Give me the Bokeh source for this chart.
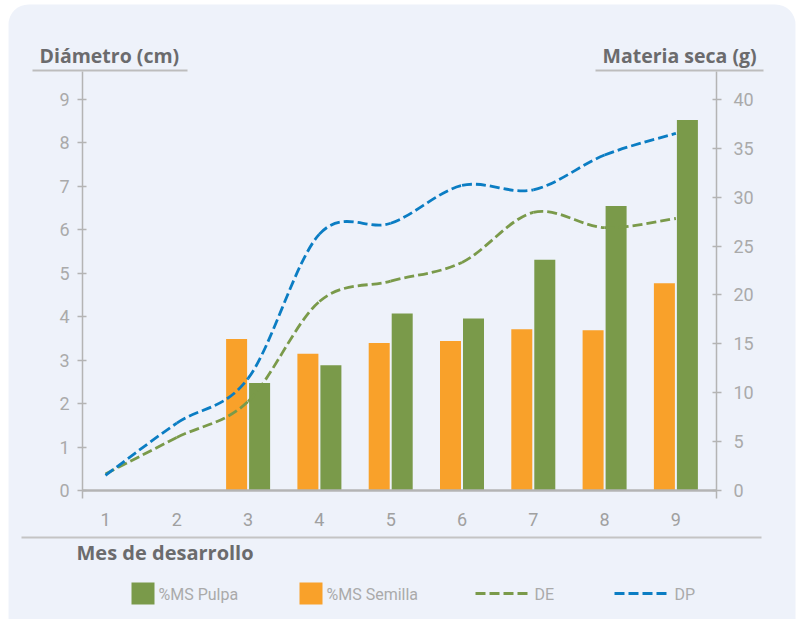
from bokeh.plotting import figure
from bokeh.models import (Range1d, LinearAxis, FixedTicker, Label,
                          BoxAnnotation, Arrow, ColumnDataSource)
from bokeh.transform import dodge
from bokeh.embed import file_html
from bokeh.resources import INLINE

# ---------------- data ----------------
months = [1, 2, 3, 4, 5, 6, 7, 8, 9]
bar_months = [3, 4, 5, 6, 7, 8, 9]
ms_pulpa = [11.0, 12.8, 18.1, 17.6, 23.6, 29.1, 37.9]      # g, right axis
ms_semilla = [15.5, 14.0, 15.1, 15.3, 16.5, 16.4, 21.2]    # g, right axis
de = [0.38, 1.22, 2.05, 4.35, 4.82, 5.25, 6.40, 6.05, 6.26]  # cm, left axis
dp = [0.35, 1.55, 2.58, 5.90, 6.15, 7.02, 6.92, 7.72, 8.22]  # cm, left axis
left_ticks = [0, 1, 2, 3, 4, 5, 6, 7, 8, 9]
right_ticks = [0, 5, 10, 15, 20, 25, 30, 35, 40]
series_names = ["%MS Pulpa", "%MS Semilla", "DE", "DP"]

# ---------------- style ----------------
BG = "#EEF2FA"
GREEN = "#7A9A4A"
ORANGE = "#F9A12A"
BLUE = "#0B7DC3"
AXIS = "#B4B4B4"
TICKTXT = "#AAAAAA"
TITLE = "#6B6B6D"
NARROW = "Roboto"
BOLD = "Open Sans"

W, H = 797, 619
X1PX, XSTEP = 105.0, 71.3      # pixel of month 1, px per month
Y0PX, YSTEP = 490.0, 43.45     # pixel of 0 cm, px per cm
RATIO = 40.0 / 9.0
FL, FR, FT, FB = 82, 716, 71, 498   # extent of the axes


def dx(px):
    return 1 + (px - X1PX) / XSTEP


def dy(py):
    return (Y0PX - py) / YSTEP


p = figure(width=W, height=H, output_backend="svg", toolbar_location=None,
           title=None, x_axis_type=None, y_axis_type=None,
           x_range=Range1d(dx(0), dx(W)), y_range=Range1d(dy(H), dy(0)),
           min_border=0, background_fill_color="white",
           border_fill_color="white")
p.outline_line_color = None
p.grid.visible = False
p.extra_y_ranges = {"ms": Range1d(dy(H) * RATIO, dy(0) * RATIO)}

# card
p.add_layout(BoxAnnotation(left=dx(8), right=dx(795), top=dy(4), bottom=dy(660),
                           fill_color=BG, fill_alpha=1, line_color=None,
                           border_radius=20, level="underlay"))


def style_axis(ax, standoff):
    ax.axis_line_color = AXIS
    ax.axis_line_width = 1.5
    ax.major_tick_line_color = AXIS
    ax.major_tick_line_width = 1.5
    ax.major_tick_in = 4
    ax.major_tick_out = 5
    ax.minor_tick_line_color = None
    ax.major_label_text_color = TICKTXT
    ax.major_label_text_font = NARROW
    ax.major_label_text_font_size = "18px"
    ax.major_label_standoff = standoff


# left axis
la = LinearAxis(ticker=FixedTicker(ticks=left_ticks), fixed_location=dx(FL),
                bounds=(dy(FB), dy(FT)))
style_axis(la, 8)
p.add_layout(la, "left")

# right axis
ra = LinearAxis(y_range_name="ms", ticker=FixedTicker(ticks=right_ticks),
                fixed_location=dx(FR), bounds=(dy(FB) * RATIO, dy(FT) * RATIO))
style_axis(ra, 12)
p.add_layout(ra, "right")

# x axis (its line is the zero baseline)
xa = LinearAxis(ticker=FixedTicker(ticks=months), fixed_location=0,
                bounds=(dx(FL), dx(FR)))
xa.axis_line_color = AXIS
xa.axis_line_width = 2.5
xa.major_tick_line_color = None
xa.minor_tick_line_color = None
xa.major_label_text_color = "#A0A0A0"
xa.major_label_text_font = NARROW
xa.major_label_text_font_size = "18px"
xa.major_label_standoff = 16
p.add_layout(xa, "below")

# bars
off = 11.5 / XSTEP
bw = 21 / XSTEP
src = ColumnDataSource(dict(m=bar_months, pulpa=ms_pulpa, semilla=ms_semilla))
p.vbar(x=dodge("m", -off), top="semilla", width=bw, bottom=0, source=src,
       fill_color=ORANGE, line_color=None, y_range_name="ms")
p.vbar(x=dodge("m", off), top="pulpa", width=bw, bottom=0, source=src,
       fill_color=GREEN, line_color=None, y_range_name="ms")


# smoothed dashed lines (bezier segments through the data points)
def smooth(xs, ys):
    n = len(xs)
    out = dict(x0=[], y0=[], x1=[], y1=[], cx0=[], cy0=[], cx1=[], cy1=[])
    for i in range(n - 1):
        a = i - 1 if i > 0 else i
        b = i + 2 if i + 2 < n else i + 1
        out["x0"].append(xs[i]); out["y0"].append(ys[i])
        out["x1"].append(xs[i + 1]); out["y1"].append(ys[i + 1])
        out["cx0"].append(xs[i] + (xs[i + 1] - xs[a]) / 6)
        out["cy0"].append(ys[i] + (ys[i + 1] - ys[a]) / 6)
        out["cx1"].append(xs[i + 1] - (xs[b] - xs[i]) / 6)
        out["cy1"].append(ys[i + 1] - (ys[b] - ys[i]) / 6)
    return ColumnDataSource(out)


for ys, col in ((de, GREEN), (dp, BLUE)):
    p.bezier(x0="x0", y0="y0", x1="x1", y1="y1", cx0="cx0", cy0="cy0",
             cx1="cx1", cy1="cy1", source=smooth(months, ys),
             line_color=col, line_width=2.8, line_dash="10 4")


# ---------------- annotations (titles, separators, legend) ----------------
def hline(x0, x1, y, color, width, dash="solid"):
    p.add_layout(Arrow(x_start=dx(x0), y_start=dy(y), x_end=dx(x1), y_end=dy(y),
                       end=None, line_color=color, line_width=width, line_dash=dash))


def label(txt, x, y, font, size, color, style="normal", baseline="middle"):
    p.add_layout(Label(x=dx(x), y=dy(y), text=txt, text_font=font,
                       text_font_size=size, text_color=color,
                       text_font_style=style, text_baseline=baseline))


label("Diámetro (cm)", 39, 55, BOLD, "19.5px", TITLE, "bold")
label("Materia seca (g)", 602, 55, BOLD, "19.5px", TITLE, "bold")
hline(32, 187, 70, "#BDBDBD", 2)
hline(595, 763, 70, "#BDBDBD", 2)
hline(21, 761, 537, "#C4C4C4", 2)
label("Mes de desarrollo", 76, 552, BOLD, "20px", TITLE, "bold")

# legend
for (x0, x1, col) in ((131, 154, GREEN), (299, 322, ORANGE)):
    p.add_layout(BoxAnnotation(left=dx(x0), right=dx(x1), top=dy(582), bottom=dy(604),
                               fill_color=col, fill_alpha=1, line_color=None))
hline(475, 530, 593, GREEN, 3, "10 4")
hline(614, 669, 593, BLUE, 3, "10 4")
for txt, x in zip(series_names, (158, 326, 534, 674)):
    label(txt, x, 594, NARROW, "16px", TICKTXT)

open("out.html", "w").write(file_html(p, INLINE))
